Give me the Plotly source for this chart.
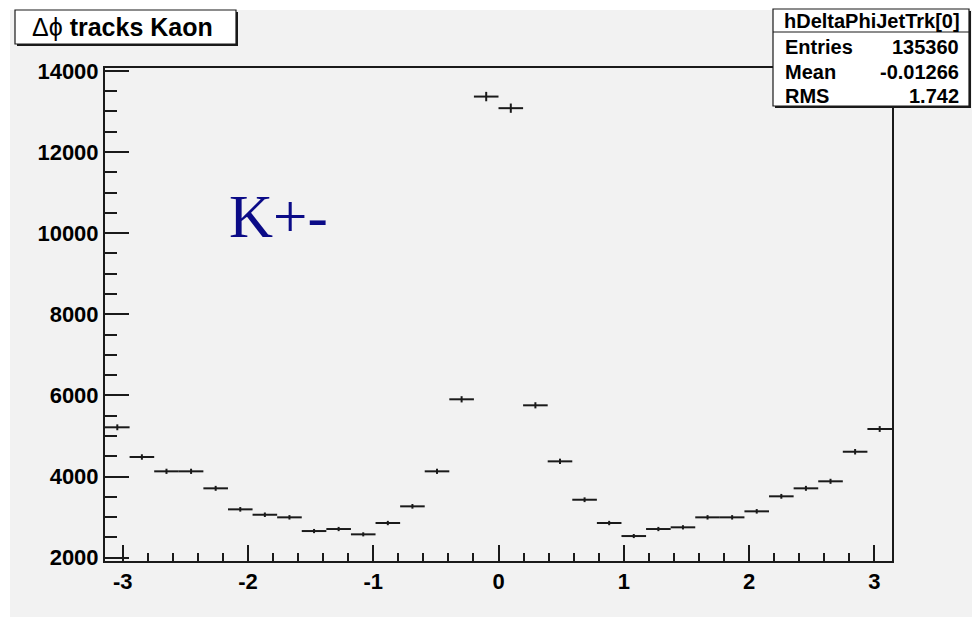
import numpy as np
import plotly.graph_objects as go

# Histogram hDeltaPhiJetTrk[0]: 32 bins over [-pi, pi]
n_bins = 32
counts = [5215, 4483, 4130, 4130, 3711, 3193, 3060, 2996,
          2658, 2708, 2577, 2856, 3267, 4130, 5905, 13366,
          13080, 5757, 4376, 3430, 2856, 2535, 2708, 2750,
          2996, 2996, 3144, 3514, 3711, 3884, 4613, 5173]

x_ticks = [-3, -2, -1, 0, 1, 2, 3]
x_tick_text = ["-3", "-2", "-1", "0", "1", "2", "3"]
y_ticks = [2000, 4000, 6000, 8000, 10000, 12000, 14000]
y_tick_text = ["2000", "4000", "6000", "8000", "10000", "12000", "14000"]

title_text = "Δϕ <b>tracks Kaon</b>"
hist_name = "hDeltaPhiJetTrk[0]"
stat_labels = ["Entries", "Mean", "RMS"]
stat_values = ["135360", "-0.01266", "1.742"]
overlay_label = "K+-"

edges = np.linspace(-np.pi, np.pi, n_bins + 1)
centers = 0.5 * (edges[:-1] + edges[1:])
half_width = 0.5 * (edges[1] - edges[0])
y = np.array(counts, dtype=float)
err = np.sqrt(y)

W, H = 972, 618
L, R, T, B = 105, 80, 68, 57


def px(x):
    return (x - L) / (W - L - R)


def py(yy):
    return 1 - (yy - T) / (H - T - B)


GRAY = "#f2f2f2"
INK = "#1a1a1a"
SANS = "Liberation Sans, Arial, Helvetica, sans-serif"

fig = go.Figure()
fig.add_trace(go.Scatter(
    x=centers, y=y, mode="markers",
    marker=dict(size=1, color=INK, opacity=0),
    error_x=dict(type="constant", value=half_width, width=0,
                 thickness=2, color=INK),
    error_y=dict(type="data", array=err, width=0,
                 thickness=2, color=INK),
    hoverinfo="skip", showlegend=False,
))

shapes = []
# white border around the grey canvas
shapes.append(dict(type="rect", xref="paper", yref="paper",
                   x0=px(0), x1=px(W), y0=py(0), y1=py(10),
                   fillcolor="white", line=dict(width=0), layer="below"))
shapes.append(dict(type="rect", xref="paper", yref="paper",
                   x0=px(0), x1=px(10), y0=py(0), y1=py(H),
                   fillcolor="white", line=dict(width=0), layer="below"))
shapes.append(dict(type="rect", xref="paper", yref="paper",
                   x0=px(0), x1=px(W), y0=py(617), y1=py(H),
                   fillcolor="white", line=dict(width=0), layer="below"))


def boxed(x0, y0, x1, y1):
    # shadow then the white box itself
    shapes.append(dict(type="rect", xref="paper", yref="paper",
                       x0=px(x0 + 2), x1=px(x1 + 2), y0=py(y1 + 2), y1=py(y0 + 2),
                       fillcolor=INK, line=dict(width=0), layer="above"))
    shapes.append(dict(type="rect", xref="paper", yref="paper",
                       x0=px(x0), x1=px(x1), y0=py(y1), y1=py(y0),
                       fillcolor="white", line=dict(width=1.2, color=INK),
                       layer="above"))


boxed(15, 10, 236, 44)
boxed(773, 9, 969, 106)
shapes.append(dict(type="line", xref="paper", yref="paper",
                   x0=px(773), x1=px(969), y0=py(32), y1=py(32),
                   line=dict(width=1.2, color=INK), layer="above"))

annotations = []
annotations.append(dict(xref="paper", yref="paper", x=px(30), y=py(27),
                        xanchor="left", yanchor="middle", showarrow=False,
                        text=title_text,
                        font=dict(family=SANS, size=25, color="black")))
annotations.append(dict(xref="paper", yref="paper", x=px(872), y=py(21),
                        xanchor="center", yanchor="middle", showarrow=False,
                        text=f"<b>{hist_name}</b>",
                        font=dict(family=SANS, size=20, color="black")))
row_y = [47, 72, 96]
for lab, val, yy in zip(stat_labels, stat_values, row_y):
    annotations.append(dict(xref="paper", yref="paper", x=px(783), y=py(yy),
                            xanchor="left", yanchor="middle", showarrow=False,
                            text=f"<b>{lab}</b>",
                            font=dict(family=SANS, size=20, color="black")))
    annotations.append(dict(xref="paper", yref="paper", x=px(961), y=py(yy),
                            xanchor="right", yanchor="middle", showarrow=False,
                            text=f"<b>{val}</b>",
                            font=dict(family=SANS, size=20, color="black")))
annotations.append(dict(xref="paper", yref="paper", x=px(227), y=py(216),
                        xanchor="left", yanchor="middle", showarrow=False,
                        text=overlay_label,
                        font=dict(family="Liberation Serif, Times New Roman, serif",
                                  size=61, color="#0b0b87")))

fig.update_layout(
    width=W, height=H,
    margin=dict(l=L, r=R, t=T, b=B, pad=0),
    paper_bgcolor=GRAY, plot_bgcolor=GRAY,
    shapes=shapes, annotations=annotations,
    showlegend=False, hovermode=False,
)
fig.update_xaxes(
    range=[-np.pi, np.pi], tickvals=x_ticks, ticktext=x_tick_text,
    ticks="inside", ticklen=16, tickwidth=1.5, tickcolor=INK,
    minor=dict(ticks="inside", ticklen=8, tickwidth=1.5, tickcolor=INK,
               dtick=0.2, tick0=0),
    showline=True, linewidth=2, linecolor=INK, mirror=True,
    showgrid=False, zeroline=False,
    tickfont=dict(family=SANS, size=22, color="black", weight="bold"),
)
fig.update_yaxes(
    range=[1920, 14070], tickvals=y_ticks, ticktext=y_tick_text,
    ticks="inside", ticklen=24, tickwidth=1.5, tickcolor=INK,
    minor=dict(ticks="inside", ticklen=12, tickwidth=1.5, tickcolor=INK,
               dtick=500, tick0=0),
    showline=True, linewidth=2, linecolor=INK, mirror=True,
    showgrid=False, zeroline=False,
    tickfont=dict(family=SANS, size=22, color="black", weight="bold"),
)

fig.write_html("out.html", config={"displayModeBar": False})
